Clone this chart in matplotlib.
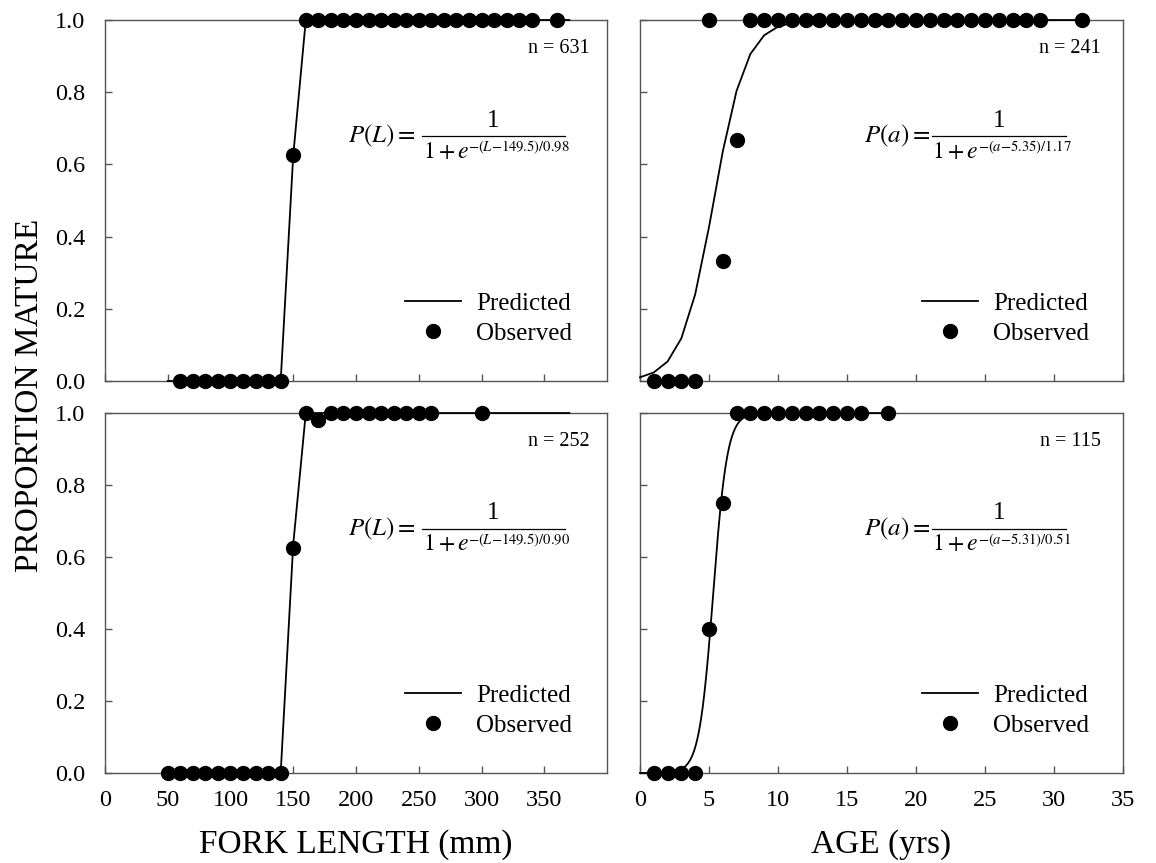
import numpy as np
import matplotlib
matplotlib.use("Agg")
import matplotlib.pyplot as plt

plt.rcParams["font.family"] = ["Liberation Serif", "DejaVu Serif"]
plt.rcParams["mathtext.fontset"] = "stix"

# observed proportions mature
fl_top_x = [60, 70, 80, 90, 100, 110, 120, 130, 140, 150,
            160, 170, 180, 190, 200, 210, 220, 230, 240, 250,
            260, 270, 280, 290, 300, 310, 320, 330, 340, 360]
fl_top_y = [0, 0, 0, 0, 0, 0, 0, 0, 0, 0.625,
            1, 1, 1, 1, 1, 1, 1, 1, 1, 1,
            1, 1, 1, 1, 1, 1, 1, 1, 1, 1]

fl_bot_x = [50, 60, 70, 80, 90, 100, 110, 120, 130, 140, 150,
            160, 170, 180, 190, 200, 210, 220, 230, 240, 250, 260, 300]
fl_bot_y = [0, 0, 0, 0, 0, 0, 0, 0, 0, 0, 0.625,
            1, 0.98, 1, 1, 1, 1, 1, 1, 1, 1, 1, 1]

age_top_x = [1, 2, 3, 4, 5, 6, 7, 8, 9, 10, 11, 12, 13, 14, 15, 16, 17, 18,
             19, 20, 21, 22, 23, 24, 25, 26, 27, 28, 29, 32]
age_top_y = [0, 0, 0, 0, 1, 0.333, 0.667, 1, 1, 1, 1, 1, 1, 1, 1, 1, 1, 1,
             1, 1, 1, 1, 1, 1, 1, 1, 1, 1, 1, 1]

age_bot_x = [1, 2, 3, 4, 5, 6, 7, 8, 9, 10, 11, 12, 13, 14, 15, 16, 18]
age_bot_y = [0, 0, 0, 0, 0.40, 0.75, 1, 1, 1, 1, 1, 1, 1, 1, 1, 1, 1]

# fitted logistic parameters (midpoint, scale) and sample grid of the fit line
fits = [(149.5, 0.98), (5.35, 1.17), (149.5, 0.90), (5.31, 0.51)]
fit_grids = [np.arange(50, 371, 10), np.arange(0, 33, 1),
             np.arange(50, 371, 10), np.linspace(0, 18, 361)]
n_labels = ["n = 631", "n = 241", "n = 252", "n = 115"]
eq_var = ["L", "a", "L", "a"]
eq_exp = ["-(L{-}149.5)/0.98", "-(a{-}5.35)/1.17",
          "-(L{-}149.5)/0.90", "-(a{-}5.31)/0.51"]
obs = [(fl_top_x, fl_top_y), (age_top_x, age_top_y),
       (fl_bot_x, fl_bot_y), (age_bot_x, age_bot_y)]

fig = plt.figure(figsize=(11.56, 8.63), dpi=100)
rects = [(0.0908, 0.5585, 0.4343, 0.4183), (0.5536, 0.5585, 0.4178, 0.4183),
         (0.0908, 0.1043, 0.4343, 0.4171), (0.5536, 0.1043, 0.4178, 0.4171)]


def equation(ax, x_eq, x_bar0, x_bar1, var, expo):
    # P(x) = 1 / (1 + e^expo), built piece by piece so the exponent stays small
    y_bar = 0.679
    ax.text(x_eq, y_bar, r"$P\left(%s\right)=$" % var, transform=ax.transAxes,
            ha="right", va="center", fontsize=18)
    ax.plot([x_bar0, x_bar1], [y_bar, y_bar], transform=ax.transAxes,
            color="black", lw=0.9)
    ax.text((x_bar0 + x_bar1) / 2, y_bar + 0.012, "1", transform=ax.transAxes,
            ha="center", va="bottom", fontsize=18)
    den = ax.text(x_bar0 + 0.001, y_bar - 0.016, r"$1+e$",
                  transform=ax.transAxes, ha="left", va="top", fontsize=17)
    ax.annotate(r"$%s$" % expo, xy=(0.98, 0.72), xycoords=den,
                ha="left", va="center", fontsize=10.5)


for i, rect in enumerate(rects):
    ax = fig.add_axes(rect)
    is_len = i % 2 == 0
    mu, s = fits[i]
    xg = fit_grids[i]
    ax.plot(xg, 1 / (1 + np.exp(-(xg - mu) / s)), color="black", lw=1.3,
            label="Predicted", clip_on=False, zorder=3)
    ax.plot(obs[i][0], obs[i][1], "o", color="black", ms=10, ls="none",
            label="Observed", clip_on=False, zorder=4)
    if is_len:
        ax.set_xlim(0, 400)
        ax.set_xticks(np.arange(0, 351, 50))
        ax.text(0.966, 0.92, n_labels[i], transform=ax.transAxes,
                ha="right", va="center", fontsize=14.5)
        equation(ax, 0.6175, 0.6315, 0.9163, eq_var[i], eq_exp[i])
    else:
        ax.set_xlim(0, 35)
        ax.set_xticks(np.arange(0, 36, 5))
        ax.text(0.954, 0.92, n_labels[i], transform=ax.transAxes,
                ha="right", va="center", fontsize=14.5)
        equation(ax, 0.600, 0.6046, 0.882, eq_var[i], eq_exp[i])
    ax.set_ylim(0, 1)
    ax.set_yticks([0, 0.2, 0.4, 0.6, 0.8, 1.0])
    ax.set_yticklabels(["0.0", "0.2", "0.4", "0.6", "0.8", "1.0"])
    ax.tick_params(direction="in", length=5, width=1, color="#555555",
                   labelsize=17.5, top=False, right=False)
    ax.tick_params(axis="x", pad=12)
    ax.tick_params(axis="y", pad=14)
    if i < 2:
        ax.tick_params(labelbottom=False)
    if not is_len:
        ax.tick_params(labelleft=False)
    for sp in ax.spines.values():
        sp.set_color("#555555")
        sp.set_linewidth(1.0)
    ax.legend(loc="lower right", bbox_to_anchor=(0.93, 0.10), frameon=False,
              fontsize=18, handlelength=2.25, handletextpad=0.6,
              labelspacing=0.3, borderpad=0, borderaxespad=0, numpoints=1)

fig.text(0.026, 0.542, "PROPORTION MATURE", rotation=90, ha="center",
         va="center", fontsize=24)
fig.text(0.308, 0.021, "FORK LENGTH (mm)", ha="center", va="center", fontsize=24)
fig.text(0.762, 0.021, "AGE (yrs)", ha="center", va="center", fontsize=24)

fig.savefig("out.png", dpi=100)
